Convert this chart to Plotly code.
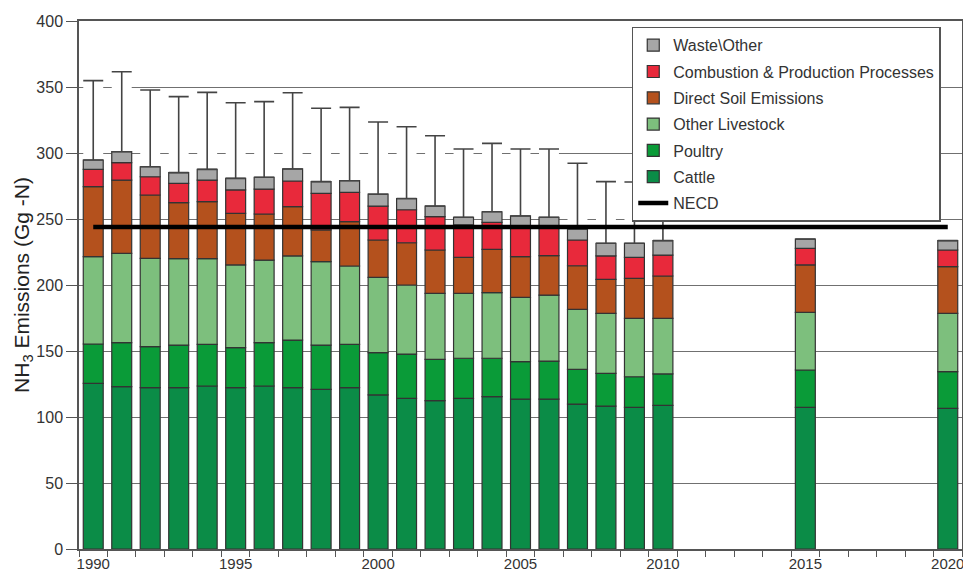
import plotly.graph_objects as go

years = ["1990", "1991", "1992", "1993", "1994", "1995", "1996", "1997", "1998", "1999",
         "2000", "2001", "2002", "2003", "2004", "2005", "2006", "2007", "2008", "2009",
         "2010", "2015", "2020"]
all_years = [str(y) for y in range(1990, 2021)]
tick_text = [y if int(y) % 5 == 0 else "" for y in all_years]

cattle = [125.5, 123.0, 122.2, 122.2, 123.5, 122.2, 123.5, 122.2, 121.0, 122.2,
          116.7, 114.1, 112.4, 114.1, 115.4, 113.6, 113.6, 109.8, 108.3, 107.3,
          108.8, 107.3, 106.5]
poultry = [29.8, 33.3, 31.1, 32.3, 31.5, 30.3, 32.8, 36.1, 33.5, 32.8,
           32.0, 33.6, 31.3, 30.4, 29.1, 28.3, 28.8, 26.3, 24.8, 23.2,
           23.8, 28.3, 27.8]
other_livestock = [66.2, 67.7, 66.9, 65.5, 65.0, 62.7, 62.6, 63.7, 63.2, 59.4,
                   57.1, 52.3, 50.0, 49.2, 49.7, 48.8, 50.0, 45.5, 45.4, 44.2,
                   42.1, 43.7, 44.2]
direct_soil = [53.0, 55.5, 48.0, 42.4, 43.1, 39.1, 34.9, 37.3, 24.0, 33.6,
               28.3, 32.0, 32.8, 27.3, 32.8, 30.8, 29.8, 33.0, 25.8, 30.3,
               32.1, 35.9, 35.4]
combustion = [13.1, 13.2, 13.8, 14.6, 16.4, 17.7, 18.9, 19.5, 27.7, 22.2,
              25.7, 25.0, 25.3, 24.5, 20.5, 21.5, 20.8, 19.5, 17.7, 16.0,
              15.9, 12.6, 12.6]
waste = [7.1, 8.3, 7.6, 8.1, 8.1, 8.8, 8.9, 9.1, 8.9, 8.8,
         9.0, 8.5, 8.0, 5.8, 8.0, 9.3, 8.3, 8.3, 9.6, 10.6,
         10.9, 7.0, 7.1]
uncertainty_plus = [60.1, 60.6, 58.1, 57.6, 58.3, 57.3, 57.3, 57.8, 55.6, 55.6,
                    54.7, 54.4, 53.3, 51.7, 51.8, 50.7, 51.7, 49.8, 46.7, 46.4,
                    46.4, 0.0, 0.0]
necd_years = ["1990", "2020"]
necd_value = [244, 244]

series = [
    ("Cattle", cattle, "#0b8c47", 6),
    ("Poultry", poultry, "#0a9b38", 5),
    ("Other Livestock", other_livestock, "#7dbf7d", 4),
    ("Direct Soil Emissions", direct_soil, "#b4511d", 3),
    ("Combustion & Production Processes", combustion, "#e8293b", 2),
    ("Waste\\Other", waste, "#a6a6a6", 1),
]

totals = [sum(v) for v in zip(*[s[1] for s in series])]
upper = [t + u for t, u in zip(totals, uncertainty_plus)]

fig = go.Figure()

# white masks hiding grid lines up to the top of each uncertainty range
fig.add_trace(go.Bar(x=years, y=upper, base=[0] * len(years), width=0.7,
                     marker=dict(color="white", line=dict(width=0)),
                     showlegend=False, hoverinfo="skip"))

base = [0.0] * len(years)
for name, vals, color, rank in series:
    fig.add_trace(go.Bar(
        x=years, y=vals, base=list(base), width=0.7, name=name,
        marker=dict(color=color, line=dict(color="#333333", width=1.2)),
        legendrank=rank, legendgroup=name,
    ))
    base = [b + v for b, v in zip(base, vals)]

fig.add_trace(go.Scatter(
    x=years, y=totals, mode="markers", marker=dict(size=1, opacity=0),
    showlegend=False, hoverinfo="skip",
    error_y=dict(type="data", symmetric=False, array=uncertainty_plus,
                 arrayminus=[0] * len(years), color="#444444",
                 thickness=1.6, width=10),
))

fig.add_trace(go.Scatter(
    x=necd_years, y=necd_value, mode="lines", name="NECD",
    line=dict(color="black", width=4.5), legendrank=7, legendgroup="NECD",
))

fig.update_layout(
    width=955, height=568,
    margin=dict(l=71, r=1, t=13, b=27),
    barmode="overlay",
    paper_bgcolor="white", plot_bgcolor="white",
    font=dict(family="Arial, Liberation Sans, sans-serif", size=16, color="#333333"),
    legend=dict(x=0.626, y=0.989, xanchor="left", yanchor="top",
                bgcolor="white", bordercolor="#555555", borderwidth=1.5,
                font=dict(size=16, color="#333333"), tracegroupgap=2.5,
                itemwidth=30),
    xaxis=dict(type="category", categoryorder="array", categoryarray=all_years,
               tickmode="array", tickvals=all_years, ticktext=tick_text,
               tickson="boundaries", ticks="outside", ticklen=6, tickangle=0,
               tickcolor="#555555", range=[-0.5, 30.5], automargin=False,
               showline=True, linecolor="#555555", linewidth=1.5, mirror=True,
               showgrid=False, tickfont=dict(size=15, color="#333333")),
    yaxis=dict(range=[0, 400], dtick=50, ticks="outside", ticklen=11,
               tickcolor="#555555", showline=True, linecolor="#555555",
               linewidth=1.5, mirror=True, showgrid=True, gridcolor="#707070",
               gridwidth=1.2, zeroline=False, automargin=False,
               tickfont=dict(size=16, color="#333333"),
               title=dict(text="NH<sub>3</sub> Emissions (Gg -N)",
                          font=dict(size=21, color="#222222"), standoff=0)),
)

fig.write_html("out.html")
